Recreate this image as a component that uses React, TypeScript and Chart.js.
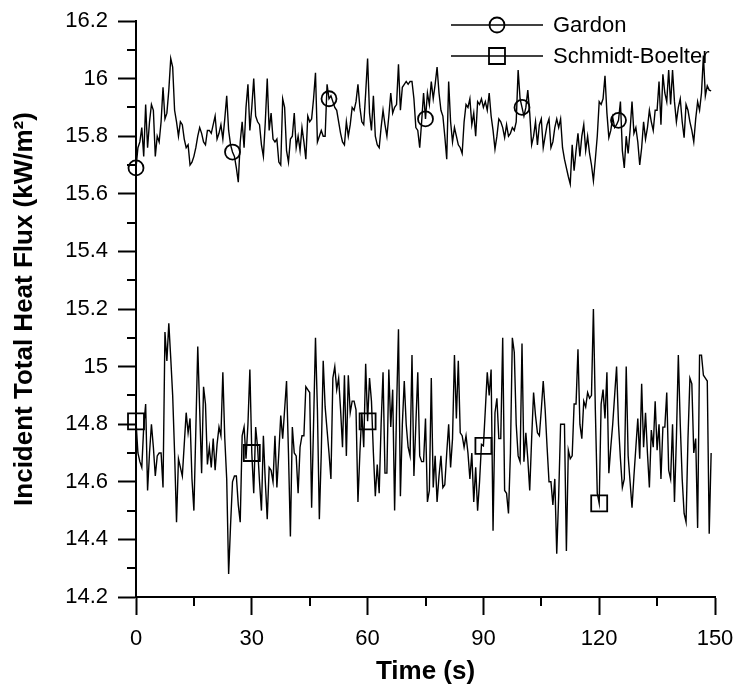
import React, { useEffect, useRef } from "react";
import { Chart, registerables } from "chart.js";

Chart.register(...registerables);

// Gardon gauge, sampled every 0.5 s from t = 0 to 149 s (kW/m²)
const GARDON = [
  15.69, 15.76, 15.78, 15.83, 15.73, 15.91, 15.76, 15.85, 15.91, 15.89,
  15.73, 15.80, 15.78, 15.85, 15.97, 15.86, 15.88, 15.96, 16.07, 16.04,
  15.89, 15.85, 15.80, 15.85, 15.84, 15.79, 15.76, 15.77, 15.70, 15.71,
  15.73, 15.76, 15.80, 15.83, 15.81, 15.78, 15.77, 15.82, 15.82, 15.81,
  15.84, 15.87, 15.79, 15.81, 15.84, 15.79, 15.86, 15.94, 15.82, 15.77,
  15.745, 15.73, 15.69, 15.64, 15.78, 15.85, 15.76, 15.90, 15.98, 15.82,
  15.90, 16.00, 15.87, 15.85, 15.84, 15.77, 15.73, 15.85, 16.00, 15.82,
  15.88, 15.79, 15.78, 15.79, 15.71, 15.70, 15.93, 15.90, 15.75, 15.71,
  15.79, 15.80, 15.88, 15.76, 15.80, 15.75, 15.83, 15.78, 15.72, 15.87,
  15.85, 15.86, 15.93, 16.02, 15.78, 15.80, 15.82, 15.80, 15.80, 15.98,
  15.93, 15.94, 15.92, 15.90, 15.89, 15.85, 15.81, 15.78, 15.77, 15.85,
  15.80, 15.84, 15.90, 15.89, 15.92, 15.98, 15.90, 15.85, 15.84, 15.95,
  16.07, 15.88, 15.82, 15.94, 15.80, 15.77, 15.76, 15.83, 15.89, 15.84,
  15.80, 15.87, 15.95, 15.88, 15.90, 15.91, 16.05, 15.89, 15.97, 15.98,
  15.99, 15.98, 15.99, 15.99, 15.93, 15.83, 15.82, 15.76, 15.85, 15.95,
  15.86, 15.95, 15.91, 15.99, 15.93, 15.98, 16.04, 15.95, 15.89, 15.87,
  15.80, 15.72, 15.99, 15.85, 15.78, 15.83, 15.80, 15.77, 15.76, 15.74,
  15.85, 15.91, 15.90, 15.93, 15.84, 15.88, 15.80, 15.92, 15.91, 15.93,
  15.90, 15.92, 15.89, 15.95, 15.87, 15.82, 15.755, 15.80, 15.86, 15.85,
  15.83, 15.795, 15.84, 15.80, 15.81, 15.83, 15.82, 15.85, 16.03, 15.93,
  15.90, 15.87, 15.90, 15.96, 15.88, 15.77, 15.80, 15.85, 15.77, 15.84,
  15.86, 15.76, 15.80, 15.84, 15.86, 15.76, 15.78, 15.83, 15.86, 15.83,
  15.86, 15.76, 15.72, 15.69, 15.66, 15.634, 15.77, 15.68, 15.75, 15.81,
  15.73, 15.80, 15.84, 15.75, 15.80, 15.74, 15.70, 15.645, 15.72, 15.80,
  15.92, 15.91, 15.93, 16.01, 15.88, 15.795, 15.82, 15.865, 15.83, 15.84,
  15.855, 15.92, 15.75, 15.69, 15.80, 15.74, 15.82, 15.92, 15.81, 15.83,
  15.78, 15.70, 15.76, 15.85, 15.79, 15.83, 15.89, 15.85, 15.82, 15.89,
  15.89, 15.99, 15.84, 16.015, 15.95, 15.92, 16.03, 15.91, 16.03, 15.92,
  15.85, 15.90, 15.93, 15.85, 15.795, 15.91, 15.89, 15.85, 15.82, 15.78,
  15.86, 15.92, 15.89, 15.95, 16.08, 15.94, 15.975, 15.96, 15.957,
];

// Schmidt-Boelter gauge, sampled every 0.5 s from t = 0 to 149 s (kW/m²)
const SCHMIDT_BOELTER = [
  14.81, 14.70, 14.67, 14.65, 14.79, 14.87, 14.57, 14.70, 14.80, 14.72,
  14.62, 14.69, 14.70, 14.70, 14.58, 15.12, 15.02, 15.15, 15.03, 14.90,
  14.70, 14.46, 14.68, 14.65, 14.62, 14.73, 14.84, 14.77, 14.82, 14.61,
  14.50, 14.78, 15.07, 14.85, 14.63, 14.93, 14.87, 14.66, 14.72, 14.65,
  14.75, 14.64, 14.73, 14.79, 14.76, 14.98, 14.75, 14.61, 14.28, 14.45,
  14.60, 14.62, 14.62, 14.52, 14.46, 14.76, 14.79, 14.68, 14.80, 14.99,
  14.70, 14.56, 14.79, 14.72, 14.60, 14.50, 14.76, 14.60, 14.47, 14.65,
  14.64, 14.60, 14.76, 14.58, 14.70, 14.83, 14.75, 14.85, 14.95, 14.70,
  14.41, 14.79, 14.70, 14.69, 14.56, 14.72, 14.76, 14.76, 14.93, 14.92,
  14.91, 14.51, 14.80, 15.10, 14.85, 14.47, 14.70, 15.02, 14.86, 14.78,
  14.70, 14.61, 14.96, 15.00, 14.92, 14.96, 14.85, 14.72, 14.97, 14.69,
  14.97, 14.84, 14.88, 14.88, 14.85, 14.53, 14.70, 14.84, 14.72, 15.01,
  14.81, 14.96, 14.88, 14.70, 14.55, 14.66, 14.56, 14.80, 14.98, 14.63,
  14.63, 14.99, 14.79, 14.92, 14.50, 14.85, 15.13, 14.55, 14.80, 14.95,
  14.80, 14.72, 14.69, 15.04, 14.62, 14.80, 14.98, 14.69, 14.67, 14.67,
  14.82, 14.53, 14.57, 14.96, 14.58, 14.69, 14.53, 14.62, 14.69, 14.58,
  14.59, 14.70, 14.80, 14.65, 14.75, 15.04, 14.82, 15.02, 14.77, 14.76,
  14.72, 14.76, 14.70, 14.61, 14.70, 14.53, 14.65, 14.50, 14.60, 14.73,
  14.725, 14.85, 14.98, 14.90, 14.99, 14.43, 14.84, 14.89, 14.75, 14.75,
  15.10, 14.57, 14.56, 14.49, 14.70, 15.10, 15.05, 14.80, 14.69, 14.67,
  15.08, 14.67, 14.77, 14.68, 14.57, 14.75, 14.91, 14.83, 14.77, 14.76,
  14.85, 14.95, 14.85, 14.72, 14.60, 14.60, 14.52, 14.61, 14.35, 14.55,
  14.80, 14.80, 14.80, 14.36, 14.71, 14.68, 14.69, 14.87, 14.87, 15.06,
  14.80, 14.75, 14.88, 14.86, 14.91, 14.89, 14.90, 15.20, 14.85, 14.56,
  14.525, 14.87, 14.92, 14.82, 14.98, 14.63, 14.72, 14.80, 14.90, 15.00,
  14.80, 14.68, 14.58, 14.61, 15.00, 14.69, 14.60, 14.51, 14.62, 14.72,
  14.82, 14.68, 14.94, 14.72, 14.84, 14.70, 14.58, 14.78, 14.72, 14.88,
  14.71, 14.80, 14.61, 14.79, 14.79, 14.91, 14.64, 14.61, 14.80, 14.53,
  14.75, 15.04, 14.80, 14.61, 14.49, 14.46, 14.75, 14.96, 14.94, 14.70,
  14.75, 14.44, 15.04, 15.04, 14.97, 14.96, 14.95, 14.42, 14.70,
];

const TIME_STEP = 0.5;
const TIMES = GARDON.map((_, i) => i * TIME_STEP);

const GARDON_MARKER_TIMES = [0, 25, 50, 75, 100, 125];
const SB_MARKER_TIMES = [0, 30, 60, 90, 120];

const SERIES_LABELS = ["Gardon", "Schmidt-Boelter"];
const X_TITLE = "Time (s)";
const Y_TITLE = "Incident Total Heat Flux (kW/m\u00B2)";

const X_MIN = 0;
const X_MAX = 150;
const X_MAJOR = 30;
const X_MINOR = 15;
const Y_MIN = 14.2;
const Y_MAX = 16.2;
const Y_MAJOR = 0.2;
const Y_MINOR = 0.1;

const FONT_FAMILY = "'Liberation Sans', Arial, Helvetica, sans-serif";
const MAJOR_TICK = 18;
const MINOR_TICK = 9;
const AXIS_W = 2;
const CIRCLE_R = 7.5;
const SQUARE_R = 11.3;

const minorTicksPlugin = {
  id: "minorTicks",
  afterDraw(chart: any) {
    const { ctx, chartArea, scales } = chart;
    const x = scales.x;
    const y = scales.y;
    ctx.save();
    ctx.strokeStyle = "#000";
    ctx.lineWidth = AXIS_W;
    ctx.beginPath();
    const nx = Math.round((X_MAX - X_MIN) / X_MAJOR);
    for (let k = 0; k < nx; k++) {
      const v = X_MIN + X_MINOR + k * X_MAJOR;
      const px = Math.round(x.getPixelForValue(v));
      ctx.moveTo(px, chartArea.bottom);
      ctx.lineTo(px, chartArea.bottom + MINOR_TICK);
    }
    const ny = Math.round((Y_MAX - Y_MIN) / Y_MAJOR);
    for (let k = 0; k < ny; k++) {
      const v = Y_MIN + Y_MINOR + k * Y_MAJOR;
      const py = Math.round(y.getPixelForValue(v));
      ctx.moveTo(chartArea.left, py);
      ctx.lineTo(chartArea.left - MINOR_TICK, py);
    }
    ctx.stroke();
    ctx.restore();
  },
};

const legendPlugin = {
  id: "insideLegend",
  afterDraw(chart: any) {
    const { ctx, chartArea } = chart;
    const x0 = chartArea.right - 264;
    const x1 = chartArea.right - 172;
    const xm = (x0 + x1) / 2;
    const tx = chartArea.right - 162;
    const rows = [chartArea.top + 4, chartArea.top + 35];
    ctx.save();
    ctx.strokeStyle = "#000";
    ctx.fillStyle = "#000";
    ctx.font = `22px ${FONT_FAMILY}`;
    ctx.textBaseline = "middle";
    ctx.textAlign = "left";
    rows.forEach((ry, i) => {
      ctx.lineWidth = 1.4;
      ctx.beginPath();
      ctx.moveTo(x0, ry);
      ctx.lineTo(x1, ry);
      ctx.stroke();
      ctx.lineWidth = 1.8;
      ctx.beginPath();
      if (i === 0) {
        ctx.arc(xm, ry, CIRCLE_R, 0, Math.PI * 2);
      } else {
        const s = Math.SQRT1_2 * SQUARE_R;
        ctx.rect(xm - s, ry - s, 2 * s, 2 * s);
      }
      ctx.stroke();
      ctx.fillText(SERIES_LABELS[i], tx, ry + 1);
    });
    ctx.restore();
  },
};

export default function App() {
  const canvasRef = useRef<HTMLCanvasElement | null>(null);

  useEffect(() => {
    const canvas = canvasRef.current;
    if (!canvas) return;

    const markerRadius = (times: number[], r: number) => (ctx: any) =>
      times.includes(TIMES[ctx.dataIndex]) ? r : 0;

    const chart = new Chart(canvas, {
      type: "line",
      data: {
        datasets: [
          {
            label: SERIES_LABELS[0],
            data: GARDON.map((v, i) => ({ x: TIMES[i], y: v })),
            borderColor: "#000",
            borderWidth: 1.4,
            backgroundColor: "rgba(0,0,0,0)",
            pointStyle: "circle",
            pointRadius: markerRadius(GARDON_MARKER_TIMES, CIRCLE_R),
            pointBorderWidth: 1.8,
            pointBorderColor: "#000",
            pointBackgroundColor: "rgba(0,0,0,0)",
            tension: 0,
            clip: false as any,
          },
          {
            label: SERIES_LABELS[1],
            data: SCHMIDT_BOELTER.map((v, i) => ({ x: TIMES[i], y: v })),
            borderColor: "#000",
            borderWidth: 1.4,
            backgroundColor: "rgba(0,0,0,0)",
            pointStyle: "rect",
            pointRadius: markerRadius(SB_MARKER_TIMES, SQUARE_R),
            pointBorderWidth: 1.8,
            pointBorderColor: "#000",
            pointBackgroundColor: "rgba(0,0,0,0)",
            tension: 0,
            clip: false as any,
          },
        ],
      },
      options: {
        responsive: false,
        animation: false,
        events: [],
        layout: { padding: { top: 21, right: 20, bottom: 0, left: 0 } },
        plugins: {
          legend: { display: false },
          tooltip: { enabled: false },
        },
        scales: {
          x: {
            type: "linear",
            min: X_MIN,
            max: X_MAX,
            afterFit: (scale: any) => {
              scale.height = 99;
              scale.paddingLeft = 0;
              scale.paddingRight = 0;
            },
            border: { display: true, color: "#000", width: AXIS_W },
            grid: {
              display: true,
              drawOnChartArea: false,
              drawTicks: true,
              tickLength: MAJOR_TICK,
              tickWidth: AXIS_W,
              tickColor: "#000",
            },
            ticks: {
              stepSize: X_MAJOR,
              color: "#000",
              padding: 11,
              maxRotation: 0,
              font: { family: FONT_FAMILY, size: 22 },
            },
            title: {
              display: true,
              text: X_TITLE,
              color: "#000",
              font: { family: FONT_FAMILY, size: 26, weight: "bold" },
              padding: { top: 0, bottom: 9 },
            },
          },
          y: {
            type: "linear",
            min: Y_MIN,
            max: Y_MAX,
            afterFit: (scale: any) => {
              scale.width = 136;
              scale.paddingTop = 0;
              scale.paddingBottom = 0;
            },
            border: { display: true, color: "#000", width: AXIS_W },
            grid: {
              display: true,
              drawOnChartArea: false,
              drawTicks: true,
              tickLength: MAJOR_TICK,
              tickWidth: AXIS_W,
              tickColor: "#000",
            },
            ticks: {
              stepSize: Y_MAJOR,
              color: "#000",
              padding: 10,
              font: { family: FONT_FAMILY, size: 22 },
              callback: (v: any) => String(parseFloat(Number(v).toFixed(1))),
            },
            title: {
              display: true,
              text: Y_TITLE,
              color: "#000",
              font: { family: FONT_FAMILY, size: 26, weight: "bold" },
              padding: { top: 9, bottom: 0 },
            },
          },
        },
      },
      plugins: [minorTicksPlugin, legendPlugin],
    });

    return () => chart.destroy();
  }, []);

  return (
    <div
      style={{
        position: "absolute",
        left: 0,
        top: 0,
        width: 735,
        height: 696,
        background: "#fff",
      }}
    >
      <canvas
        ref={canvasRef}
        width={735}
        height={696}
        style={{ display: "block", width: 735, height: 696 }}
      />
    </div>
  );
}
